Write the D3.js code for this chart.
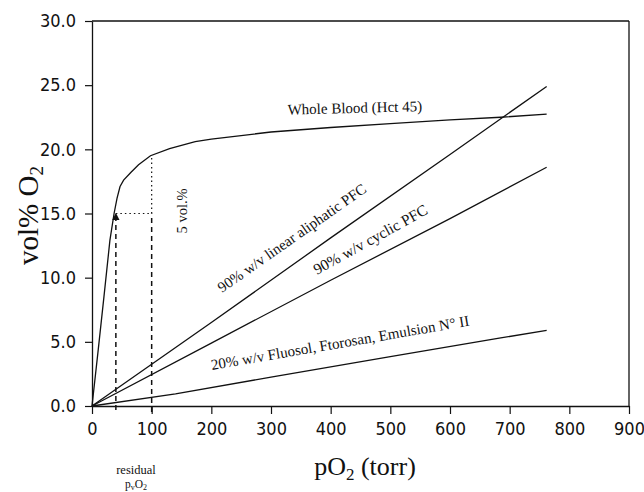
<!DOCTYPE html>
<html>
<head>
<meta charset="utf-8">
<script src="https://cdn.jsdelivr.net/npm/d3@7"></script>
<style>
  body { margin: 0; background: #fff; }
  svg { display: block; }
  .tick text { font-family: "Liberation Sans Narrow", "DejaVu Sans Condensed", sans-serif; font-size: 18px; fill: #111; }
  .serif { font-family: "Liberation Serif", "Times New Roman", serif; fill: #111; }
</style>
</head>
<body>
<svg id="chart" width="644" height="492"></svg>
<script>
// curve data (pO2 in torr, O2 content in vol%)
const bloodPO2 = [0, 10, 20, 30, 37, 42, 47, 53, 65, 78, 98, 130, 173, 200, 300, 400, 500, 600, 685, 762];
const bloodVol = [0, 4.2, 8.5, 12.9, 15.0, 16.2, 17.1, 17.6, 18.2, 18.8, 19.5, 20.05, 20.6, 20.8, 21.35, 21.7, 22.0, 22.3, 22.5, 22.75];

const linearPO2 = [0, 200, 400, 600, 762];
const linearVol = [0, 6.5, 13.1, 19.6, 24.9];

const cyclicPO2 = [0, 200, 400, 600, 762];
const cyclicVol = [0, 4.9, 9.8, 14.6, 18.6];

const fluosolPO2 = [0, 140, 300, 500, 685, 762];
const fluosolVol = [0, 0.95, 2.25, 3.85, 5.3, 5.9];

const xTicks = [0, 100, 200, 300, 400, 500, 600, 700, 800, 900];
const yTicks = [0, 5, 10, 15, 20, 25, 30];

const residualPO2 = 40;
const arterialPO2 = 100;
const residualVol = 15;
const arterialVol = 19.5;

const svg = d3.select("#chart");
svg.append("rect").attr("width", 644).attr("height", 492).attr("fill", "#fff");

const x = d3.scaleLinear().domain([0, 900]).range([92, 629]);
const y = d3.scaleLinear().domain([0, 30]).range([406, 21]);

// frame top + right
svg.append("line").attr("x1", x(0)).attr("x2", x(900)).attr("y1", y(30)).attr("y2", y(30))
  .attr("stroke", "#111").attr("stroke-width", 1.3);
svg.append("line").attr("x1", x(900)).attr("x2", x(900)).attr("y1", y(30)).attr("y2", y(0))
  .attr("stroke", "#111").attr("stroke-width", 1.3);

const xAxis = svg.append("g")
  .attr("transform", `translate(0,${y(0)})`)
  .call(d3.axisBottom(x).tickValues(xTicks).tickFormat(d3.format("d")).tickSize(8).tickSizeOuter(0).tickPadding(8));

const yAxis = svg.append("g")
  .attr("transform", `translate(${x(0)},0)`)
  .call(d3.axisLeft(y).tickValues(yTicks).tickFormat(d3.format(".1f")).tickSize(7).tickSizeOuter(0).tickPadding(9));

[xAxis, yAxis].forEach(a => {
  a.select(".domain").attr("stroke", "#111").attr("stroke-width", 1.3);
  a.selectAll(".tick line").attr("stroke", "#111").attr("stroke-width", 1.2);
});

// curves
const line = d3.line().x(d => x(d[0])).y(d => y(d[1]));
const series = [
  [bloodPO2, bloodVol],
  [linearPO2, linearVol],
  [cyclicPO2, cyclicVol],
  [fluosolPO2, fluosolVol]
];
series.forEach(([px, py]) => {
  svg.append("path")
    .datum(px.map((v, i) => [v, py[i]]))
    .attr("d", line)
    .attr("fill", "none")
    .attr("stroke", "#111")
    .attr("stroke-width", 1.3);
});

// arrow marker
svg.append("defs").append("marker")
  .attr("id", "arr").attr("viewBox", "0 0 10 10").attr("refX", 9).attr("refY", 5)
  .attr("markerWidth", 5).attr("markerHeight", 5).attr("orient", "auto")
  .append("path").attr("d", "M0,0L10,5L0,10z").attr("fill", "#111");

// dashed / dotted guides
svg.append("line")
  .attr("x1", x(residualPO2)).attr("x2", x(residualPO2))
  .attr("y1", y(0) + 4).attr("y2", y(residualVol))
  .attr("stroke", "#111").attr("stroke-width", 1.5).attr("stroke-dasharray", "5,4")
  .attr("marker-end", "url(#arr)");
svg.append("line")
  .attr("x1", x(arterialPO2)).attr("x2", x(arterialPO2))
  .attr("y1", y(0) + 6).attr("y2", y(residualVol))
  .attr("stroke", "#111").attr("stroke-width", 1.5).attr("stroke-dasharray", "5,4");
svg.append("line")
  .attr("x1", x(residualPO2)).attr("x2", x(arterialPO2))
  .attr("y1", y(residualVol)).attr("y2", y(residualVol))
  .attr("stroke", "#111").attr("stroke-width", 1.2).attr("stroke-dasharray", "1.5,3");
svg.append("line")
  .attr("x1", x(arterialPO2)).attr("x2", x(arterialPO2))
  .attr("y1", y(residualVol)).attr("y2", y(arterialVol))
  .attr("stroke", "#111").attr("stroke-width", 1.2).attr("stroke-dasharray", "1.5,3");

// curve labels
function label(txt, px, vol, angle, size) {
  svg.append("text").attr("class", "serif")
    .attr("transform", `translate(${x(px)},${y(vol)}) rotate(${angle})`)
    .attr("font-size", size)
    .text(txt);
}
label("Whole Blood (Hct 45)", 328, 22.7, -1.5, 15);
label("90% w/v linear aliphatic PFC", 218, 8.8, -35, 15);
label("90% w/v cyclic PFC", 377, 10.2, -29, 15.5);
label("20% w/v Fluosol, Ftorosan, Emulsion N° II", 201, 2.8, -9.8, 15);

svg.append("text").attr("class", "serif")
  .attr("transform", `translate(${x(arterialPO2) + 35},${y(15.2)}) rotate(-90)`)
  .attr("text-anchor", "middle").attr("font-size", 14.5)
  .text("5 vol.%");

// axis titles
const yt = svg.append("text").attr("class", "serif")
  .attr("transform", `translate(38,${(y(0) + y(30)) / 2 + 2}) rotate(-90)`)
  .attr("text-anchor", "middle").attr("font-size", 29);
yt.append("tspan").text("vol% O");
yt.append("tspan").attr("font-size", 19).attr("dy", 5).text("2");

const xt = svg.append("text").attr("class", "serif")
  .attr("x", 365).attr("y", 475)
  .attr("text-anchor", "middle").attr("font-size", 26);
xt.append("tspan").text("pO");
xt.append("tspan").attr("font-size", 17).attr("dy", 5).text("2");
xt.append("tspan").attr("dy", -5).text(" (torr)");

svg.append("text").attr("class", "serif")
  .attr("x", 136).attr("y", 474).attr("text-anchor", "middle").attr("font-size", 12.5)
  .text("residual");
const pv = svg.append("text").attr("class", "serif")
  .attr("x", 136).attr("y", 488).attr("text-anchor", "middle").attr("font-size", 11.5);
pv.append("tspan").text("p");
pv.append("tspan").attr("font-size", 8).attr("dy", 2).text("v");
pv.append("tspan").attr("dy", -2).text("O");
pv.append("tspan").attr("font-size", 8).attr("dy", 2).text("2");
</script>
</body>
</html>
